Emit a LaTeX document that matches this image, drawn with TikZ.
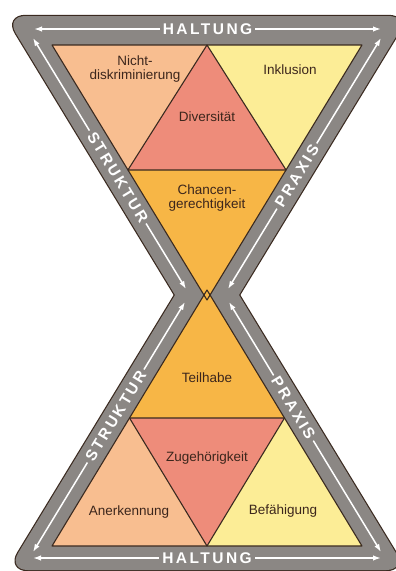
\documentclass[tikz,border=0pt]{standalone}
\usepackage{fontspec}
\setmainfont{Liberation Sans}
\newfontfamily\bandfont[LetterSpace=16]{Liberation Sans}
\usetikzlibrary{arrows.meta, calc}

\definecolor{bandgray}{RGB}{139,135,132}
\definecolor{edgedark}{RGB}{58,42,32}
\definecolor{peach}{RGB}{248,190,144}
\definecolor{salmon}{RGB}{238,140,122}
\definecolor{paleyellow}{RGB}{252,237,150}
\definecolor{amber}{RGB}{247,182,70}
\definecolor{labelbrown}{RGB}{60,38,28}

\begin{document}
\begin{tikzpicture}[
    x=1pt, y=-1pt,
    field/.style={font=\fontsize{13.5}{13.5}\selectfont, text=labelbrown, align=center, inner sep=0pt},
    bandlabel/.style={font=\bandfont\bfseries\fontsize{15.5}{16}\selectfont, text=white, fill=bandgray, inner sep=3pt, sloped},
    bandarrow/.style={{Latex[length=8pt,width=5.5pt]}-{Latex[length=8pt,width=5.5pt]}, white, line width=1.5pt},
    tri/.style={draw=edgedark, line width=1.1pt, line join=round}
]
\useasboundingbox (0,0) rectangle (396,571);

% === Corner points ===
\coordinate (A) at (52,45);
\coordinate (B) at (362,45);
\coordinate (Ot) at (207,300);
\coordinate (C) at (52,546);
\coordinate (D) at (362,546);
\coordinate (Ob) at (207,290);

\coordinate (M1) at ($(A)!0.5!(B)$);
\coordinate (L1) at ($(A)!0.49!(Ot)$);
\coordinate (R1) at ($(B)!0.49!(Ot)$);
\coordinate (M2) at ($(C)!0.5!(D)$);
\coordinate (L2) at ($(C)!0.5!(Ob)$);
\coordinate (R2) at ($(D)!0.5!(Ob)$);

% === Gray band (two rounded triangles) ===
\coordinate (otl) at (5.4,16);
\coordinate (otr) at (408.6,16);
\coordinate (otw) at (207,347.6);
\coordinate (obl) at (7.8,570);
\coordinate (obr) at (406.2,570);
\coordinate (obw) at (207,242.4);

\draw[edgedark, line width=2.4pt, rounded corners=20] (otl) -- (otr) -- (otw) -- cycle;
\draw[edgedark, line width=2.4pt, rounded corners=20] (obl) -- (obr) -- (obw) -- cycle;
\fill[bandgray, rounded corners=20] (otl) -- (otr) -- (otw) -- cycle;
\fill[bandgray, rounded corners=20] (obl) -- (obr) -- (obw) -- cycle;

% === Fields ===
\fill[peach] (A) -- (M1) -- (L1) -- cycle;
\fill[salmon] (M1) -- (L1) -- (R1) -- cycle;
\fill[paleyellow] (M1) -- (B) -- (R1) -- cycle;
\fill[amber] (L1) -- (R1) -- (Ot) -- cycle;

\fill[amber] (L2) -- (R2) -- (Ob) -- cycle;
\fill[peach] (C) -- (M2) -- (L2) -- cycle;
\fill[salmon] (M2) -- (L2) -- (R2) -- cycle;
\fill[paleyellow] (M2) -- (D) -- (R2) -- cycle;

\draw[tri] (A) -- (B) -- (Ot) -- cycle;
\draw[tri] (M1) -- (L1) -- (R1) -- cycle;
\draw[tri] (C) -- (D) -- (Ob) -- cycle;
\draw[tri] (M2) -- (L2) -- (R2) -- cycle;

% === Band arrows ===
\coordinate (ht1) at (34,29);
\coordinate (ht2) at (381,29);
\coordinate (hb1) at (33,558);
\coordinate (hb2) at (381,558);
\coordinate (stl1) at (33,38);
\coordinate (stl2) at (186,289);
\coordinate (ptr1) at (381,38);
\coordinate (ptr2) at (228,289);
\coordinate (sbl1) at (185,302);
\coordinate (sbl2) at (33,552);
\coordinate (pbr1) at (229,302);
\coordinate (pbr2) at (381,552);

\draw[bandarrow] (ht1) -- node[bandlabel] (haltungtop) {HALTUNG} (ht2);
\draw[bandarrow] (hb1) -- node[bandlabel] (haltungbot) {HALTUNG} (hb2);
\draw[bandarrow] (stl1) -- node[bandlabel, pos=0.554] (strukturtop) {STRUKTUR} (stl2);
\draw[bandarrow] (ptr1) -- node[bandlabel, pos=0.55] (praxistop) {PRAXIS} (ptr2);
\draw[bandarrow] (sbl1) -- node[bandlabel, pos=0.456] (strukturbot) {STRUKTUR} (sbl2);
\draw[bandarrow] (pbr1) -- node[bandlabel, pos=0.424] (praxisbot) {PRAXIS} (pbr2);

% === Labels ===
\node[field] (nichtdisk) at (135,69) {Nicht-\\diskriminierung};
\node[field] (inklusion) at (290,70) {Inklusion};
\node[field] (diversitaet) at (207,117) {Diversität};
\node[field] (chancen) at (207,198) {Chancen-\\gerechtigkeit};
\node[field] (teilhabe) at (207,378) {Teilhabe};
\node[field] (zugehoerig) at (207,458) {Zugehörigkeit};
\node[field] (anerkennung) at (129,512) {Anerkennung};
\node[field] (befaehigung) at (283,511) {Befähigung};

\end{tikzpicture}
\end{document}
